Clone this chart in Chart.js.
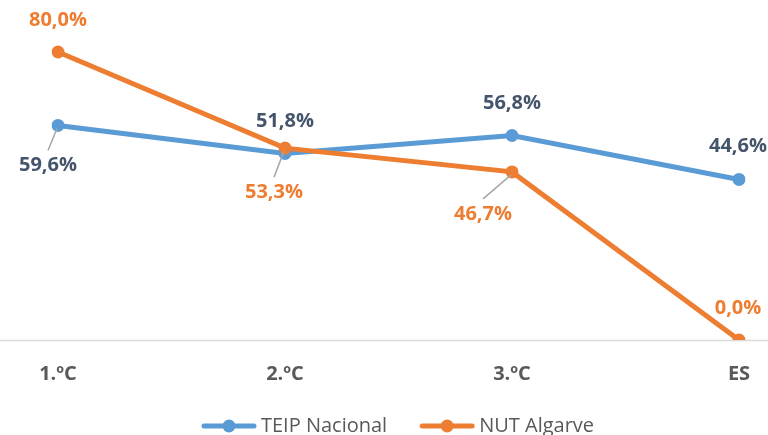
<!DOCTYPE html>
<html>
<head>
<meta charset="utf-8">
<script src="https://cdn.jsdelivr.net/npm/chart.js@4.4.1/dist/chart.umd.min.js"></script>
<style>
  html, body { margin: 0; padding: 0; background: #ffffff; overflow: hidden; }
  #wrap { width: 768px; height: 446px; }
</style>
</head>
<body>
<div id="wrap"><canvas id="grafica"></canvas></div>
<script>
const categorias = ['1.ºC', '2.ºC', '3.ºC', 'ES'];
const serie_teip = [59.6, 51.8, 56.8, 44.6];
const serie_nut = [80.0, 53.3, 46.7, 0.0];
const etiqueta_teip = 'TEIP Nacional';
const etiqueta_nut = 'NUT Algarve';

const color_teip = '#5B9BD5';
const color_nut = '#ED7D31';
const color_texto_teip = '#44546A';

// where each value label sits relative to its point (dx, dy, leader line)
const pos_teip = [[-10, 40, true], [0, -32, false], [0, -32, false], [-1, -33, false]];
const pos_nut = [[0, -32, false], [-11, 44, true], [-29, 42, true], [-1, -32, false]];

const formato = (v) => v.toFixed(1).replace('.', ',') + '%';

// legend marker: line with a dot, drawn at the right of a wider transparent box
const marcador = (color) => {
    const c = document.createElement('canvas');
    c.width = 86; c.height = 14;
    const ctx = c.getContext('2d');
    ctx.strokeStyle = color;
    ctx.lineWidth = 5;
    ctx.lineCap = 'round';
    ctx.beginPath(); ctx.moveTo(33, 7); ctx.lineTo(83, 7); ctx.stroke();
    ctx.fillStyle = color;
    ctx.beginPath(); ctx.arc(58, 7, 6.5, 0, Math.PI * 2); ctx.fill();
    return c;
};

const eje_completo = {
    id: 'eje_completo',
    afterLayout(chart) {
        // nudge the legend block a little to the left
        chart.legend.left -= 13;
        chart.legend.right -= 13;
    },
    beforeDatasetsDraw(chart) {
        const y = Math.round(chart.scales.y.getPixelForValue(0)) + 0.5;
        const ctx = chart.ctx;
        ctx.save();
        ctx.strokeStyle = '#D9D9D9';
        ctx.lineWidth = 1.5;
        ctx.beginPath(); ctx.moveTo(0, y); ctx.lineTo(chart.width, y); ctx.stroke();
        ctx.restore();
    }
};

const etiquetas_datos = {
    id: 'etiquetas_datos',
    afterDatasetsDraw(chart) {
        const ctx = chart.ctx;
        const grupos = [[0, pos_teip, color_texto_teip], [1, pos_nut, color_nut]];
        ctx.save();
        ctx.font = 'bold 20px "Open Sans"';
        ctx.textAlign = 'center';
        ctx.textBaseline = 'middle';
        grupos.forEach(([idx, pos, color]) => {
            const meta = chart.getDatasetMeta(idx);
            const datos = chart.data.datasets[idx].data;
            meta.data.forEach((p, i) => {
                const [dx, dy, guia] = pos[i];
                const tx = p.x + dx, ty = p.y + dy;
                if (guia) {
                    ctx.strokeStyle = '#A6A6A6';
                    ctx.lineWidth = 1.5;
                    ctx.beginPath();
                    ctx.moveTo(tx, ty - 15);
                    ctx.lineTo(p.x - 1, p.y + 3);
                    ctx.stroke();
                }
                ctx.fillStyle = color;
                ctx.fillText(formato(datos[i]), tx, ty);
            });
        });
        ctx.restore();
    }
};

new Chart(document.getElementById('grafica'), {
    type: 'line',
    plugins: [eje_completo, etiquetas_datos],
    data: {
        labels: categorias,
        datasets: [
            {
                label: etiqueta_teip,
                data: serie_teip,
                borderColor: color_teip,
                backgroundColor: color_teip,
                borderWidth: 5,
                pointRadius: 6.5,
                pointBorderWidth: 0,
                pointStyle: 'circle',
                fill: false,
                order: 2
            },
            {
                label: etiqueta_nut,
                data: serie_nut,
                borderColor: color_nut,
                backgroundColor: color_nut,
                borderWidth: 5,
                pointRadius: 6.5,
                pointBorderWidth: 0,
                pointStyle: 'circle',
                fill: false,
                order: 1
            }
        ]
    },
    options: {
        responsive: true,
        maintainAspectRatio: false,
        animation: false,
        layout: { padding: { left: 58, right: 29, top: 16, bottom: 0 } },
        scales: {
            x: {
                offset: false,
                grid: { display: false, drawTicks: false },
                border: { display: false },
                afterFit: (scale) => { scale.paddingLeft = 0; scale.paddingRight = 0; },
                ticks: {
                    color: '#595959',
                    padding: 22,
                    font: { family: 'Open Sans', size: 20, weight: 'bold' }
                }
            },
            y: {
                display: false,
                min: 0,
                max: 90
            }
        },
        plugins: {
            tooltip: { enabled: false },
            legend: {
                position: 'bottom',
                labels: {
                    color: '#595959',
                    font: { family: 'Open Sans', size: 20 },
                    usePointStyle: true,
                    pointStyleWidth: 74,
                    padding: 8,
                    sort: (a, b) => a.datasetIndex - b.datasetIndex,
                    generateLabels: (chart) => chart.data.datasets.map((ds, i) => ({
                        text: ds.label,
                        fontColor: '#595959',
                        pointStyle: marcador(ds.borderColor),
                        fillStyle: ds.borderColor,
                        strokeStyle: ds.borderColor,
                        lineWidth: 0,
                        hidden: false,
                        datasetIndex: i
                    }))
                }
            }
        }
    }
});
</script>
</body>
</html>
